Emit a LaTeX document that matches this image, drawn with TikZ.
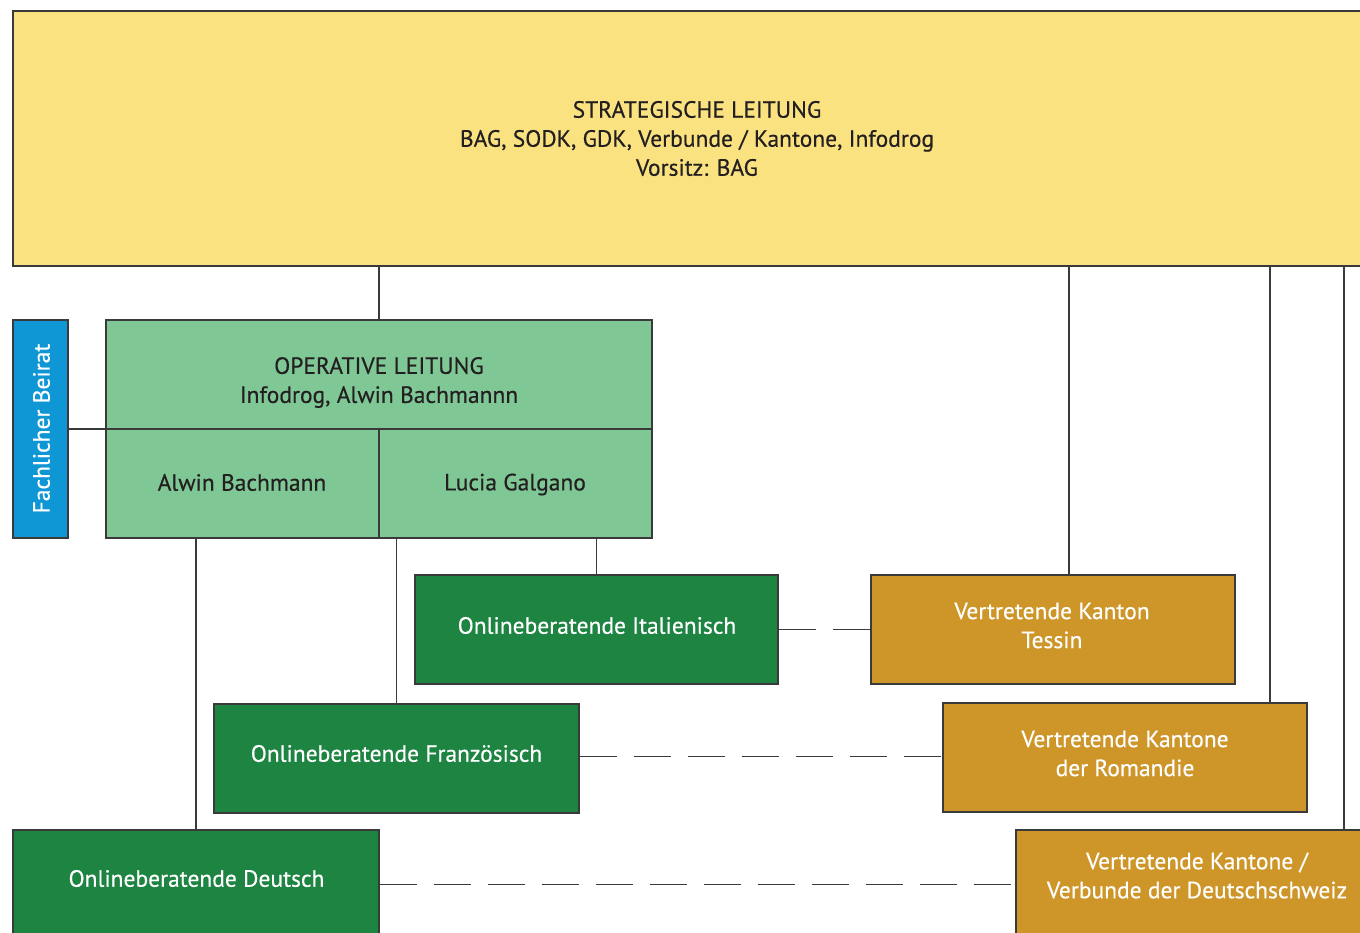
\documentclass[tikz,border=0pt]{standalone}
\usepackage{fontspec}
\setmainfont{PT Sans}[FakeBold=0.4]
\definecolor{linec}{HTML}{3A3A3A}
\definecolor{yel}{HTML}{FBE281}
\definecolor{lgreen}{HTML}{7FC896}
\definecolor{dgreen}{HTML}{1D8442}
\definecolor{orng}{HTML}{CE9629}
\definecolor{blu}{HTML}{0E96D5}
\definecolor{txt}{HTML}{231F20}
\begin{document}
\begin{tikzpicture}[x=1pt,y=-1pt,
  box/.style={draw=linec, line width=1.3pt, inner sep=0pt},
  darkbox/.style={box, fill=dgreen, minimum width=365pt, minimum height=109pt},
  orbox/.style={box, fill=orng, minimum width=364pt, minimum height=109pt},
  lbl/.style={inner sep=0pt, align=center, font=\fontsize{23.5}{29}\selectfont},
  dlbl/.style={lbl, text=txt},
  wlbl/.style={lbl, text=white},
  conn/.style={draw=linec, line width=1.2pt},
  dconn/.style={conn, dash pattern=on 37pt off 17pt}]
\useasboundingbox (0,0) rectangle (1360,933);
\clip (0,0) rectangle (1360,933);
\fill[white] (0,0) rectangle (1360,933);

% boxes
\node[box, fill=yel, minimum width=1367pt, minimum height=255pt] (strat) at (696.5,138.5) {};
\node[box, fill=blu, minimum width=55pt, minimum height=218pt] (beirat) at (40.5,429) {};
\node[box, fill=lgreen, minimum width=546pt, minimum height=109pt] (optop) at (379,374.5) {};
\node[box, fill=lgreen, minimum width=273pt, minimum height=109pt] (opl) at (242.5,483.5) {};
\node[box, fill=lgreen, minimum width=273pt, minimum height=109pt] (opr) at (515.5,483.5) {};
\node[darkbox, minimum width=363pt] (ital) at (596.5,629.5) {};
\node[darkbox] (franz) at (396.5,758.5) {};
\node[darkbox, minimum width=366pt] (deutsch) at (196,884.5) {};
\node[orbox] (tessin) at (1053,629.5) {};
\node[orbox] (romandie) at (1125,757.5) {};
\node[orbox] (dch) at (1198,884.5) {};

% texts
\node[dlbl] (t-strat) at (697,138.5) {STRATEGISCHE LEITUNG\\BAG, SODK, GDK, Verbunde / Kantone, Infodrog\\Vorsitz: BAG};
\node[wlbl, rotate=90] (t-beirat) at (41.5,428.5) {Fachlicher Beirat};
\node[dlbl] (t-optop) at (379,382.5) {OPERATIVE LEITUNG\\Infodrog, Alwin Bachmannn};
\node[dlbl] (t-opl) at (242,482.5) {Alwin Bachmann};
\node[dlbl] (t-opr) at (515,484.5) {Lucia Galgano};
\node[wlbl] (t-ital) at (597,625.5) {Onlineberatende Italienisch};
\node[wlbl] (t-franz) at (396.5,753.5) {Onlineberatende Französisch};
\node[wlbl] (t-deutsch) at (196.5,878.5) {Onlineberatende Deutsch};
\node[wlbl] (t-tessin) at (1052,625.5) {Vertretende Kanton\\Tessin};
\node[wlbl] (t-romandie) at (1125,753.5) {Vertretende Kantone\\der Romandie};
\node[wlbl] (t-dch) at (1197,875.5) {Vertretende Kantone /\\Verbunde der Deutschschweiz};

% connectors from strategic level
\draw[conn] (optop.north) -- (optop.north |- strat.south);
\draw[conn] ([xshift=16pt]tessin.north) -- ([xshift=16pt]tessin.north |- strat.south);
\draw[conn] ([xshift=145pt]romandie.north) -- ([xshift=145pt]romandie.north |- strat.south);
\draw[conn] ([xshift=146pt]dch.north) -- ([xshift=146pt]dch.north |- strat.south);

% Beirat
\draw[conn] (beirat.east) -- (beirat.east -| optop.west);

% operative to online
\draw[conn] (deutsch.north) -- (deutsch.north |- opl.south);
\draw[conn] (franz.north) -- (franz.north |- opr.south);
\draw[conn] (ital.north) -- (ital.north |- opr.south);

% dashed
\draw[dconn] (ital.east) -- (tessin.west);
\draw[dconn] ([yshift=2pt]franz.east) -- ([yshift=2pt]franz.east -| romandie.west);
\draw[dconn] (deutsch.east) -- (dch.west);
\end{tikzpicture}
\end{document}
